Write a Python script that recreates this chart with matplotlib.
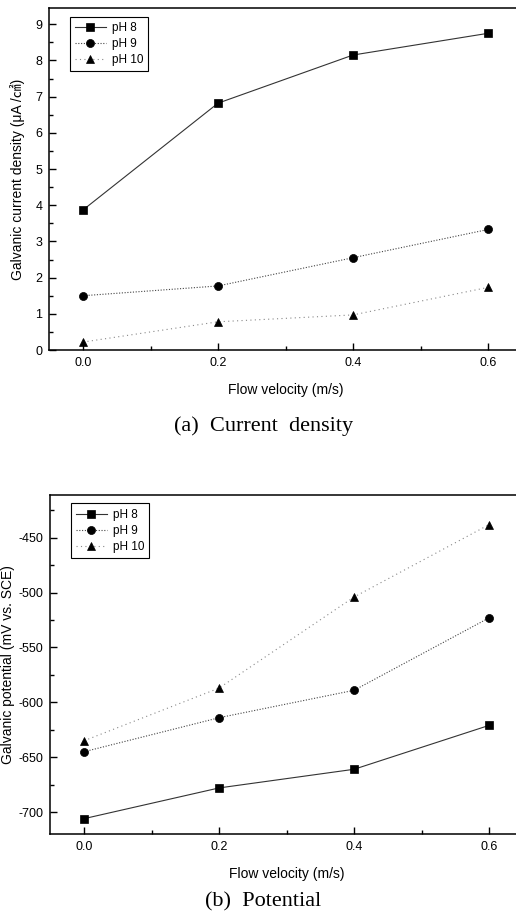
import numpy as np
import matplotlib
matplotlib.use("Agg")
import matplotlib.pyplot as plt
from matplotlib.ticker import MultipleLocator

# data
velocity = [0.0, 0.2, 0.4, 0.6]
series = ["pH 8", "pH 9", "pH 10"]

current_ph8 = [3.87, 6.82, 8.15, 8.75]
current_ph9 = [1.50, 1.77, 2.55, 3.33]
current_ph10 = [0.22, 0.78, 0.97, 1.73]

potential_ph8 = [-706, -678, -661, -621]
potential_ph9 = [-645, -614, -589, -523]
potential_ph10 = [-635, -587, -504, -438]

plt.rcParams['font.family'] = ['Liberation Sans', 'Noto Sans CJK SC', 'DejaVu Sans']
plt.rcParams['axes.unicode_minus'] = False

styles = [
    dict(marker='s', linestyle='-', color='#333333'),
    dict(marker='o', linestyle=(0, (1, 1.5)), color='#444444'),
    dict(marker='^', linestyle=(0, (1, 3)), color='#888888'),
]

fig = plt.figure(figsize=(5.16, 9.17), dpi=100)
ax1 = fig.add_axes([0.0955, 0.6183, 0.9157, 0.373])
ax2 = fig.add_axes([0.0975, 0.0905, 0.9157, 0.3697])


def draw(ax, ys, label_x):
    for name, y, st in zip(series, ys, styles):
        ax.plot(velocity, y, label=name, linewidth=0.8, markersize=5.8,
                markeredgewidth=0.5, markerfacecolor='black',
                markeredgecolor='black', **st)
    ax.set_xlim(-0.05, 0.65)
    ax.xaxis.set_minor_locator(MultipleLocator(0.1))
    ax.set_xticks(velocity)
    ax.set_xticklabels(['0.0', '0.2', '0.4', '0.6'])
    ax.tick_params(which='both', direction='in', labelsize=9, width=1.0)
    ax.tick_params(which='major', length=5)
    ax.tick_params(which='minor', length=3)
    ax.tick_params(axis='y', pad=5)
    ax.tick_params(axis='x', pad=5)
    ax.spines['right'].set_visible(False)
    for s in ['left', 'bottom', 'top']:
        ax.spines[s].set_linewidth(1.1)
    ax.set_xlabel('Flow velocity (m/s)', fontsize=10, labelpad=10)
    ax.yaxis.set_label_coords(label_x, 0.5)
    leg = ax.legend(loc='upper left', bbox_to_anchor=(0.043, 0.975), fontsize=8.5,
                    handlelength=2.6, handletextpad=0.5, fancybox=False,
                    edgecolor='black', framealpha=1, borderpad=0.45,
                    labelspacing=0.35, borderaxespad=0)
    leg.get_frame().set_linewidth(0.8)


draw(ax1, [current_ph8, current_ph9, current_ph10], -0.051)
ax1.set_ylim(0, 9.45)
ax1.yaxis.set_major_locator(MultipleLocator(1))
ax1.yaxis.set_minor_locator(MultipleLocator(0.5))
ax1.set_ylabel('Galvanic current density (μA /㎠)', fontsize=10)

draw(ax2, [potential_ph8, potential_ph9, potential_ph10], -0.074)
ax2.set_ylim(-720, -411)
ax2.yaxis.set_major_locator(MultipleLocator(50))
ax2.yaxis.set_minor_locator(MultipleLocator(25))
ax2.set_ylabel('Galvanic potential (mV vs. SCE)', fontsize=10)

fig.text(0.51, 0.535, '(a)  Current  density', ha='center', va='center',
         fontsize=16, family='Liberation Serif')
fig.text(0.51, 0.017, '(b)  Potential', ha='center', va='center',
         fontsize=16, family='Liberation Serif')

fig.savefig('out.png', dpi=100)
